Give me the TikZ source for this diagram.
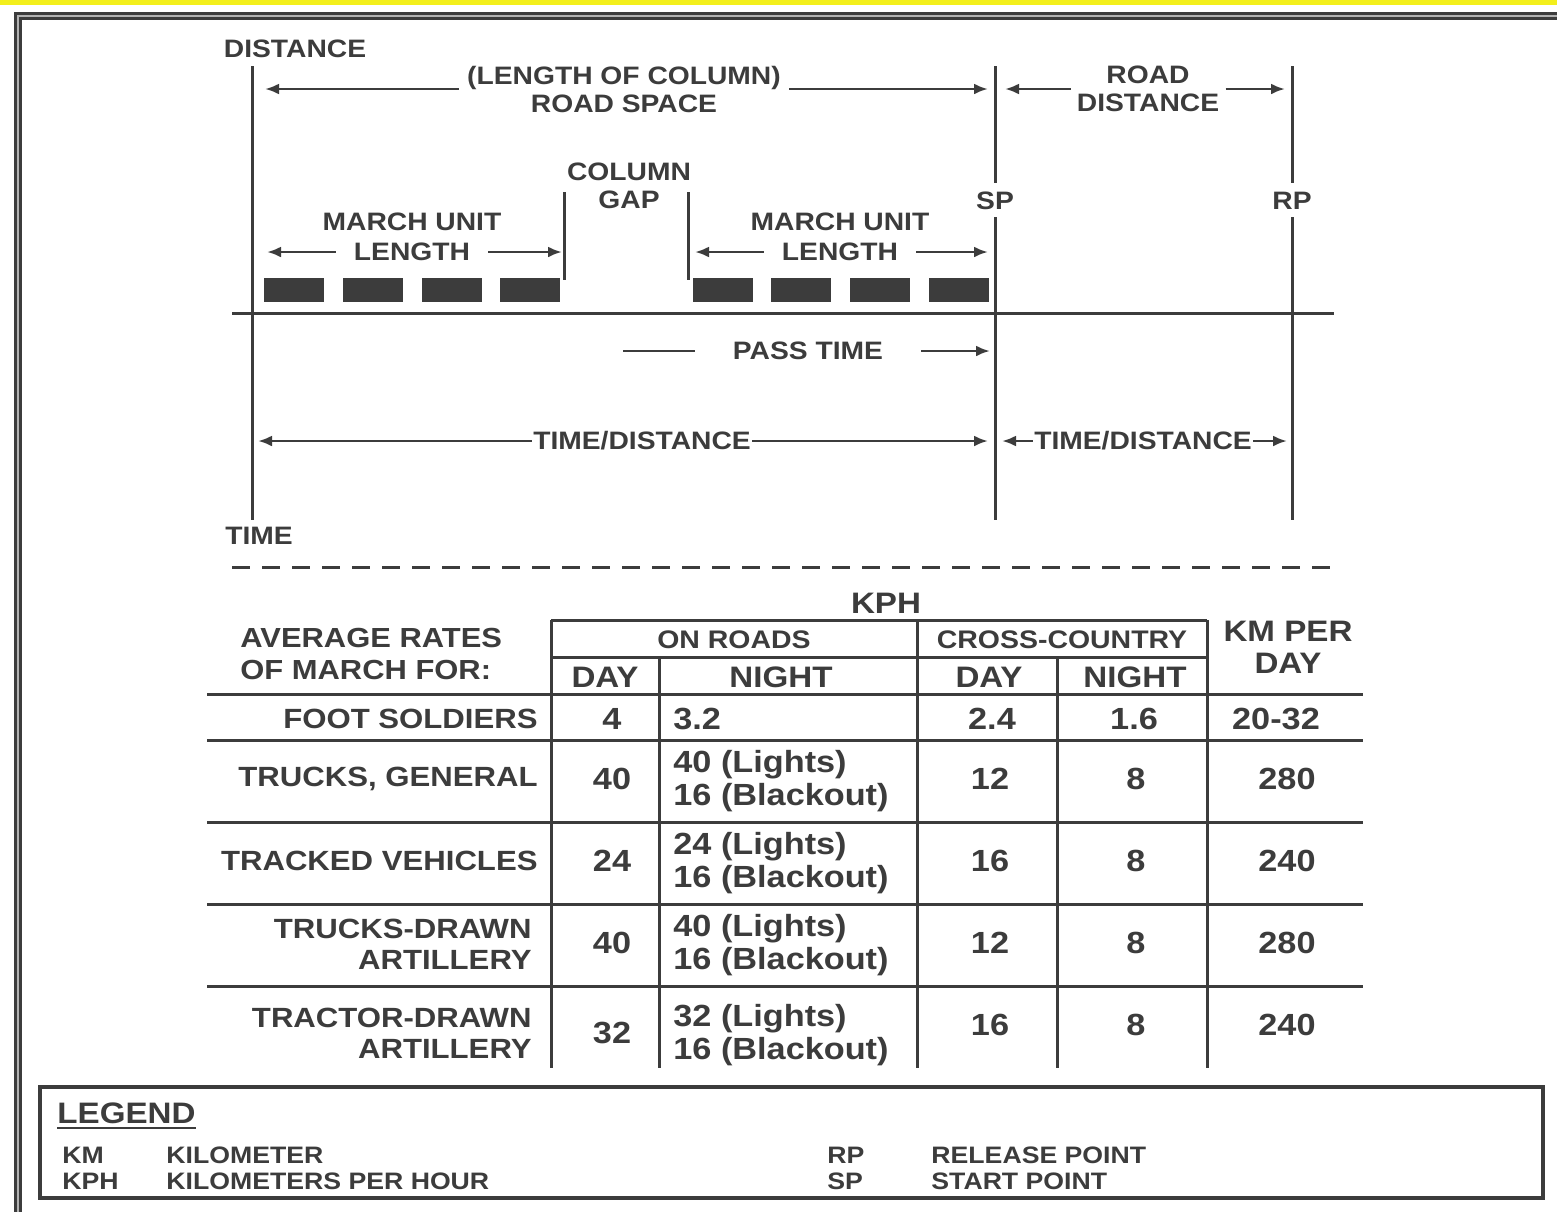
\documentclass[tikz,border=0pt]{standalone}
\usepackage{fontspec}
\setmainfont{Liberation Sans}[FakeStretch=1.12]
\usepackage{xcolor}
\usepackage{tikz}
\usetikzlibrary{arrows.meta,positioning,calc}
\definecolor{MarchInk}{HTML}{3C3C3C}
\definecolor{MarchBand}{HTML}{F3EF1C}

\begin{document}
\begin{tikzpicture}[
  x=0.5pt, y=-0.5pt,
  lbl/.style={font=\fontsize{12.6}{14}\selectfont\bfseries, text=MarchInk, align=center, inner sep=2pt},
  pt/.style={lbl, text height=9pt, text depth=0pt, inner ysep=4pt},
  hdrsmall/.style={font=\fontsize{12.7}{14}\selectfont\bfseries, text=MarchInk, inner sep=0pt},
  hdr/.style={font=\fontsize{14.8}{16}\selectfont\bfseries, text=MarchInk, inner sep=0pt, align=center},
  rowlbl/.style={font=\fontsize{13.9}{15.5}\selectfont\bfseries, text=MarchInk, inner sep=0pt, anchor=east, align=right},
  cell/.style={font=\fontsize{15.3}{16.5}\selectfont\bfseries, text=MarchInk, inner sep=0pt},
  night/.style={cell, anchor=west, align=left},
  leg/.style={font=\fontsize{11.9}{13}\selectfont\bfseries, text=MarchInk, anchor=west, inner sep=0pt},
  rule/.style={draw=MarchInk, line width=1.5pt},
  arrow/.style={draw=MarchInk, line width=1.4pt, -{Latex[length=7pt,width=5.5pt]}},
  block/.style={fill=MarchInk}
]
\useasboundingbox (0,0) rectangle (1557,1211);
\clip (0,0) rectangle (1557,1211);
\fill[white] (0,0) rectangle (1557,1211);

% page frame
\fill[MarchBand] (0,0) rectangle (1557,5);
\draw[draw=MarchInk, line width=1.3pt, double=gray!60, double distance=1.4pt] (18,16) rectangle (1640,1300);

% distance / time axes
\node[lbl] (distance) at (295,49) {DISTANCE};
\node[lbl] (time) at (259,536) {TIME};
\coordinate (distTop) at (252,66);
\coordinate (timeBot) at (252,520);
\draw[rule] (distTop) -- (timeBot);
\coordinate (roadL) at (232,313);
\coordinate (roadR) at (1334,313);
\draw[rule] (roadL) -- (roadR);

% start point and release point
\node[pt] (sp) at (995,200) {SP};
\node[pt] (rp) at (1292,200) {RP};
\coordinate (spTop) at (995,66);
\coordinate (spBot) at (995,520);
\coordinate (rpTop) at (1292,66);
\coordinate (rpBot) at (1292,520);
\draw[rule] (spTop) -- (sp.north);
\draw[rule] (sp.south) -- (spBot);
\draw[rule] (rpTop) -- (rp.north);
\draw[rule] (rp.south) -- (rpBot);

% road space and road distance
\node[lbl, inner xsep=4pt] (roadspace) at (624,89) {(LENGTH OF COLUMN)\\ROAD SPACE};
\coordinate (rsL) at (265,89);
\coordinate (rsR) at (988,89);
\draw[arrow] (roadspace.west) -- (rsL);
\draw[arrow] (roadspace.east) -- (rsR);

\node[lbl, inner xsep=3pt] (roaddist) at (1148,89) {ROAD\\DISTANCE};
\coordinate (rdL) at (1005,89);
\coordinate (rdR) at (1285,89);
\draw[arrow] (roaddist.west) -- (rdL);
\draw[arrow] (roaddist.east) -- (rdR);

% column gap
\node[lbl] (colgap) at (629,186) {COLUMN\\GAP};
\draw[rule] (564,192) -- (564,280);
\draw[rule] (688,192) -- (688,280);

% march units
\node[lbl] (muA) at (412,222) {MARCH UNIT};
\node[lbl, inner xsep=9pt] (muAlen) at (412,252) {LENGTH};
\coordinate (muAL) at (267,252);
\coordinate (muAR) at (562,252);
\draw[arrow] (muAlen.west) -- (muAL);
\draw[arrow] (muAlen.east) -- (muAR);

\node[lbl] (muB) at (840,222) {MARCH UNIT};
\node[lbl, inner xsep=9pt] (muBlen) at (840,252) {LENGTH};
\coordinate (muBL) at (695,252);
\coordinate (muBR) at (988,252);
\draw[arrow] (muBlen.west) -- (muBL);
\draw[arrow] (muBlen.east) -- (muBR);

\fill[block] (264,278) rectangle ++(60,24);
\fill[block] (343,278) rectangle ++(60,24);
\fill[block] (422,278) rectangle ++(60,24);
\fill[block] (500,278) rectangle ++(60,24);
\fill[block] (693,278) rectangle ++(60,24);
\fill[block] (771,278) rectangle ++(60,24);
\fill[block] (850,278) rectangle ++(60,24);
\fill[block] (929,278) rectangle ++(60,24);

% pass time
\node[lbl, inner xsep=19pt] (passtime) at (808,351) {PASS TIME};
\coordinate (ptL) at (623,351);
\coordinate (ptR) at (990,351);
\draw[rule, line width=1.4pt] (passtime.west) -- (ptL);
\draw[arrow] (passtime.east) -- (ptR);

% time / distance
\node[lbl, inner xsep=0.5pt] (tdA) at (642,441) {TIME/DISTANCE};
\coordinate (tdAL) at (258,441);
\coordinate (tdAR) at (988,441);
\draw[arrow] (tdA.west) -- (tdAL);
\draw[arrow] (tdA.east) -- (tdAR);

\node[lbl, inner xsep=0.5pt] (tdB) at (1143,441) {TIME/DISTANCE};
\coordinate (tdBL) at (1002,441);
\coordinate (tdBR) at (1287,441);
\draw[arrow] (tdB.west) -- (tdBL);
\draw[arrow] (tdB.east) -- (tdBR);

\coordinate (cutL) at (232,567);
\coordinate (cutR) at (1334,567);
\draw[rule, dash pattern=on 9pt off 6pt] (cutL) -- (cutR);

% rates table
\node[hdr] (kph) at (886,603) {KPH};
\draw[rule] (551,620) -- (1207,620) (551,657) -- (1207,657);
\draw[rule] (207,694) -- (1363,694) (207,740) -- (1363,740) (207,822) -- (1363,822)
  (207,904) -- (1363,904) (207,986) -- (1363,986);
\draw[rule] (551,620) -- (551,1068) (917,620) -- (917,1068) (1207,620) -- (1207,1068)
  (659,657) -- (659,1068) (1057,657) -- (1057,1068);

\node[hdrsmall] (onroads) at (734,640) {ON ROADS};
\node[hdrsmall] (crosscty) at (1062,640) {CROSS-COUNTRY};
\node[hdr] (rdday) at (605,677) {DAY};
\node[hdr] (rdnight) at (781,677) {NIGHT};
\node[hdr] (ccday) at (989,677) {DAY};
\node[hdr] (ccnight) at (1135,677) {NIGHT};
\node[hdr] (kmday) at (1288,647) {KM PER\\DAY};
\node[font=\fontsize{13.8}{16}\selectfont\bfseries, text=MarchInk, inner sep=0pt, anchor=west, align=left] (avgrates) at (240,654) {AVERAGE RATES\\OF MARCH FOR:};

\node[rowlbl] (footlbl) at (538,719) {FOOT SOLDIERS};
\node[cell] (footday) at (612,719) {4};
\node[night] (footnight) at (673,719) {3.2};
\node[cell] (footccday) at (992,719) {2.4};
\node[cell] (footccnight) at (1134,719) {1.6};
\node[cell] (footkm) at (1276,719) {20-32};

\node[rowlbl] (trucklbl) at (538,779) {TRUCKS, GENERAL};
\node[cell] (truckday) at (612,779) {40};
\node[night] (trucknight) at (673,781) {40 (Lights)\\16 (Blackout)};
\node[cell] (truckccday) at (990,779) {12};
\node[cell] (truckccnight) at (1136,779) {8};
\node[cell] (truckkm) at (1287,779) {280};

\node[rowlbl] (trackedlbl) at (538,861) {TRACKED VEHICLES};
\node[cell] (trackedday) at (612,861) {24};
\node[night] (trackednight) at (673,863) {24 (Lights)\\16 (Blackout)};
\node[cell] (trackedccday) at (990,861) {16};
\node[cell] (trackedccnight) at (1136,861) {8};
\node[cell] (trackedkm) at (1287,861) {240};

\node[rowlbl] (tdartlbl) at (532,944) {TRUCKS-DRAWN\\ARTILLERY};
\node[cell] (tdartday) at (612,943) {40};
\node[night] (tdartnight) at (673,945) {40 (Lights)\\16 (Blackout)};
\node[cell] (tdartccday) at (990,943) {12};
\node[cell] (tdartccnight) at (1136,943) {8};
\node[cell] (tdartkm) at (1287,943) {280};

\node[rowlbl] (trartlbl) at (532,1033) {TRACTOR-DRAWN\\ARTILLERY};
\node[cell] (trartday) at (612,1033) {32};
\node[night] (trartnight) at (673,1035) {32 (Lights)\\16 (Blackout)};
\node[cell] (trartccday) at (990,1025) {16};
\node[cell] (trartccnight) at (1136,1025) {8};
\node[cell] (trartkm) at (1287,1025) {240};

% legend
\draw[draw=MarchInk, line width=2pt] (40,1087) rectangle (1543,1198);
\node[font=\fontsize{14.8}{16}\selectfont\bfseries, text=MarchInk, anchor=west, inner xsep=0pt, inner ysep=2pt, text height=10.6pt, text depth=0pt] (legend) at (57,1113) {LEGEND};
\draw[draw=MarchInk, line width=1pt] (legend.south west) -- (legend.south east);
\node[leg] (kmabbr) at (62,1155) {KM};
\node[leg] (kmtext) at (166,1155) {KILOMETER};
\node[leg] (kphabbr) at (62,1181) {KPH};
\node[leg] (kphtext) at (166,1181) {KILOMETERS PER HOUR};
\node[leg] (rpabbr) at (827,1155) {RP};
\node[leg] (rptext) at (931,1155) {RELEASE POINT};
\node[leg] (spabbr) at (827,1181) {SP};
\node[leg] (sptext) at (931,1181) {START POINT};
\end{tikzpicture}
\end{document}
